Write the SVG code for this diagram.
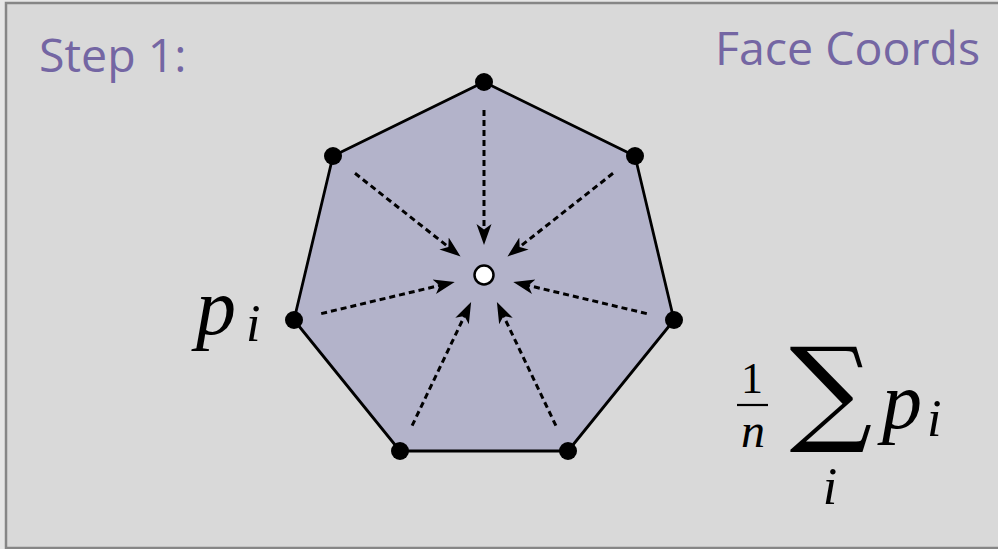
<svg xmlns="http://www.w3.org/2000/svg" width="998" height="549" viewBox="0 0 998 549">
<defs>
<style>
.title{font-family:"Open Sans","Liberation Sans",sans-serif;font-size:46.5px;fill:#7466a3}
.math{font-family:"Liberation Serif","DejaVu Serif",serif;font-style:italic;fill:#000}
.arr{stroke:#000;stroke-width:3;stroke-dasharray:6 4;fill:none;marker-end:url(#ah)}
.vtx{fill:#000}
</style>
<marker id="ah" markerUnits="userSpaceOnUse" markerWidth="24" markerHeight="18" viewBox="0 0 24 18" refX="11" refY="9" orient="auto">
<path d="M0,1.5 L21,9 L0,16.5 L5.5,9 Z" fill="#000"/>
</marker>
</defs>
<rect x="0" y="0" width="998" height="549" fill="#e6e6e6"/>
<rect x="6" y="3" width="1000" height="545" fill="#d9d9d9" stroke="#868686" stroke-width="2.5"/>
<text class="title" x="39" y="72">Step 1:</text>
<text class="title" x="715" y="65">Face Coords</text>
<g id="face">
<polygon points="484,82 635,156 674,320 568,451 400,451 294,320 333,156" fill="#b3b3ca" stroke="#000" stroke-width="2.8" stroke-linejoin="round"/>
</g>
<g id="connectors">
<line class="arr" x1="484" y1="110" x2="484" y2="235"/>
<line class="arr" x1="355" y1="173.3" x2="452.7" y2="250.3"/>
<line class="arr" x1="613" y1="173.3" x2="515.3" y2="250.3"/>
<line class="arr" x1="321.2" y1="313.6" x2="445" y2="284.2"/>
<line class="arr" x1="646.8" y1="313.6" x2="523" y2="284.2"/>
<line class="arr" x1="412.1" y1="425.7" x2="466.8" y2="311.1"/>
<line class="arr" x1="555.9" y1="425.7" x2="501.2" y2="311.1"/>
</g>
<g id="vertices">
<circle class="vtx" cx="484" cy="82" r="9"/>
<circle class="vtx" cx="333" cy="156" r="9"/>
<circle class="vtx" cx="635" cy="156" r="9"/>
<circle class="vtx" cx="294" cy="320" r="9"/>
<circle class="vtx" cx="674" cy="320" r="9"/>
<circle class="vtx" cx="400" cy="451" r="9"/>
<circle class="vtx" cx="568" cy="451" r="9"/>
</g>
<g id="centroid">
<circle cx="484" cy="275" r="9.5" fill="#fff" stroke="#000" stroke-width="2.5"/>
</g>
<g id="label-pi">
<text class="math" x="196" y="334" font-size="80">p</text>
<text class="math" x="246" y="341" font-size="52">i</text>
</g>
<g id="formula">
<text x="752" y="393" font-family="Liberation Serif,serif" font-size="44" text-anchor="middle" fill="#000">1</text>
<line x1="737" y1="405" x2="768" y2="405" stroke="#000" stroke-width="2.2"/>
<text class="math" x="753" y="447" font-size="48" text-anchor="middle">n</text>
<text x="831" y="430" font-family="DejaVu Serif,serif" font-size="116" text-anchor="middle" fill="#000">∑</text>
<text class="math" x="882" y="428" font-size="80">p</text>
<text class="math" x="927" y="436" font-size="52">i</text>
<text class="math" x="830" y="504" font-size="52" text-anchor="middle">i</text>
</g>
</svg>
